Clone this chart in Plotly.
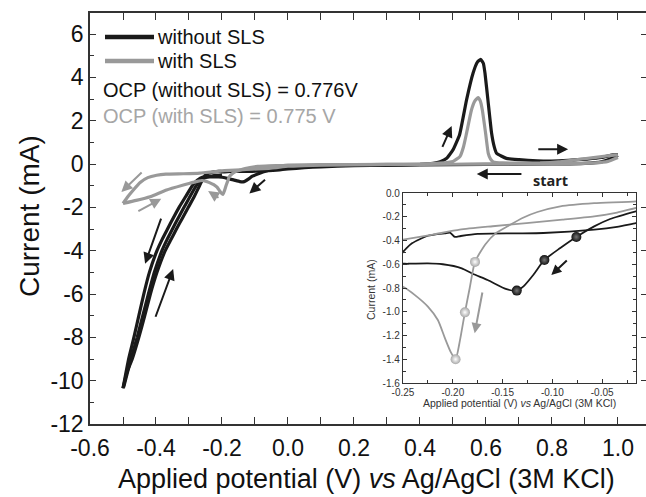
import plotly.graph_objects as go

# ---------------- data (potential V, current mA) ----------------
# without SLS, first cathodic sweep (starts at positive end)
bk_cat_x = [1.00, 0.98, 0.95, 0.90, 0.80, 0.60, 0.40, 0.20, 0.10, 0.00, -0.016, -0.042, -0.058,
            -0.076, -0.092, -0.108, -0.119, -0.129, -0.136, -0.146, -0.165, -0.18, -0.191, -0.21,
            -0.225, -0.245, -0.258, -0.275, -0.29, -0.31, -0.33, -0.348, -0.365, -0.382, -0.397,
            -0.42, -0.437, -0.452, -0.467, -0.483, -0.50]
bk_cat_y = [0.40, 0.25, 0.10, 0.03, 0.00, -0.02, -0.04, -0.06, -0.08, -0.12, -0.154, -0.219, -0.281,
            -0.37, -0.463, -0.564, -0.688, -0.786, -0.822, -0.81, -0.733, -0.68, -0.634, -0.60,
            -0.592, -0.596, -0.60, -0.75, -1.0, -1.5, -2.0, -2.5, -3.0, -3.5, -4.0,
            -5.0, -6.0, -7.0, -8.0, -9.0, -10.35]
# without SLS, second cycle cathodic sweep (steep region)
bk_cat2_x = [-0.20, -0.235, -0.255, -0.268, -0.278, -0.297, -0.315, -0.333, -0.35, -0.367, -0.382,
             -0.405, -0.423, -0.44, -0.457, -0.476, -0.498]
bk_cat2_y = [-0.50, -0.56, -0.65, -0.80, -1.0, -1.5, -2.0, -2.5, -3.0, -3.5, -4.0,
             -5.0, -6.0, -7.0, -8.0, -9.0, -10.3]
# without SLS, anodic sweep
bk_an_x = [-0.50, -0.488, -0.472, -0.452, -0.434, -0.417, -0.397, -0.372, -0.355, -0.338, -0.32,
           -0.302, -0.284, -0.268, -0.26, -0.254, -0.251, -0.241, -0.225, -0.208, -0.2025, -0.198,
           -0.192, -0.175, -0.138, -0.109, -0.058, -0.035, -0.016, 0.00, 0.05, 0.10, 0.20, 0.30,
           0.40, 0.44, 0.461, 0.48, 0.50, 0.52, 0.541, 0.561, 0.574, 0.584, 0.592, 0.597, 0.606,
           0.617, 0.625, 0.632, 0.662, 0.70, 0.755, 0.80, 0.85, 0.906, 0.95, 0.985, 1.00]
bk_an_y = [-10.35, -9.6, -9.0, -8.0, -7.0, -6.0, -5.0, -4.0, -3.5, -3.0, -2.5,
           -2.0, -1.5, -1.0, -0.75, -0.60, -0.508, -0.424, -0.36, -0.34, -0.335, -0.37,
           -0.362, -0.345, -0.34, -0.337, -0.309, -0.285, -0.253, -0.23, -0.17, -0.13, -0.08, -0.05,
           -0.02, 0.03, 0.10, 0.25, 0.65, 1.35, 2.95, 4.2, 4.7, 4.83, 4.65, 4.2, 2.95,
           1.43, 0.80, 0.50, 0.26, 0.20, 0.15, 0.14, 0.17, 0.23, 0.30, 0.42, 0.44]
# with SLS, cathodic sweep
gr_cat_x = [1.00, 0.97, 0.93, 0.85, 0.70, 0.50, 0.30, 0.10, 0.00, -0.016, -0.058, -0.092, -0.115,
            -0.13, -0.145, -0.157, -0.167, -0.1777, -0.183, -0.1878, -0.193, -0.1972, -0.202,
            -0.208, -0.215, -0.225, -0.238, -0.25, -0.26, -0.275, -0.30, -0.317, -0.368, -0.418,
            -0.46, -0.50]
gr_cat_y = [0.30, 0.12, 0.05, 0.02, 0.00, -0.01, -0.02, -0.03, -0.05, -0.07, -0.085, -0.112, -0.16,
            -0.21, -0.28, -0.34, -0.43, -0.58, -0.80, -1.005, -1.25, -1.40, -1.34,
            -1.22, -1.07, -0.957, -0.86, -0.79, -0.76, -0.80, -0.90, -0.97, -1.20, -1.51,
            -1.68, -1.82]
# with SLS, anodic sweep
gr_an_x = [-0.50, -0.485, -0.47, -0.448, -0.425, -0.398, -0.37, -0.317, -0.267, -0.25, -0.22, -0.193,
           -0.16, -0.126, -0.09, -0.058, -0.035, -0.016, 0.00, 0.05, 0.10, 0.20, 0.30, 0.40, 0.46,
           0.50, 0.521, 0.532, 0.541, 0.556, 0.566, 0.576, 0.583, 0.589, 0.599, 0.607, 0.614, 0.622,
           0.65, 0.70, 0.764, 0.82, 0.864, 0.92, 0.97, 1.00]
gr_an_y = [-1.82, -1.50, -1.22, -0.85, -0.63, -0.52, -0.47, -0.45, -0.42, -0.393, -0.35, -0.309,
           -0.28, -0.253, -0.225, -0.197, -0.165, -0.126, -0.10, -0.07, -0.05, -0.03, -0.02, 0.00, 0.04,
           0.12, 0.34, 0.80, 1.41, 2.49, 2.90, 3.06, 2.90, 2.49, 1.41, 0.49, 0.22, 0.10,
           0.05, 0.04, 0.05, 0.10, 0.18, 0.28, 0.38, 0.42]
# highlighted points in the inset
bk_dot_x = [-0.0759, -0.108, -0.1357]
bk_dot_y = [-0.37, -0.564, -0.822]
gr_dot_x = [-0.1777, -0.1878, -0.1972]
gr_dot_y = [-0.58, -1.005, -1.40]

# tick labels
main_xticks = [-0.6, -0.4, -0.2, 0.0, 0.2, 0.4, 0.6, 0.8, 1.0]
main_xlabels = ["-0.6", "-0.4", "-0.2", "0.0", "0.2", "0.4", "0.6", "0.8", "1.0"]
main_yticks = [-12, -10, -8, -6, -4, -2, 0, 2, 4, 6]
main_ylabels = ["-12", "-10", "-8", "-6", "-4", "-2", "0", "2", "4", "6"]
ins_xticks = [-0.25, -0.20, -0.15, -0.10, -0.05]
ins_xlabels = ["-0.25", "-0.20", "-0.15", "-0.10", "-0.05"]
ins_yticks = [0.0, -0.2, -0.4, -0.6, -0.8, -1.0, -1.2, -1.4, -1.6]
ins_ylabels = ["0.0", "-0.2", "-0.4", "-0.6", "-0.8", "-1.0", "-1.2", "-1.4", "-1.6"]

legend_names = ["without SLS", "with SLS"]
ocp_texts = ["OCP (without SLS) = 0.776V", "OCP (with SLS) = 0.775 V"]

# ---------------- styling ----------------
W, H = 646, 497
L, R, T, B = 90, 0, 13, 73
PW, PH = W - L - R, H - T - B
BLACK = "#1a1a1a"
GRAY = "#999999"
FONT = "Liberation Sans, Arial, sans-serif"
AX = "#333333"


def px(xp):
    return (xp - L) / PW


def py(yp):
    return (H - B - yp) / PH


fig = go.Figure()

main_lw = 3.2
for xs, ys, c, nm in [(bk_cat_x, bk_cat_y, BLACK, legend_names[0]),
                      (bk_cat2_x, bk_cat2_y, BLACK, legend_names[0]),
                      (bk_an_x, bk_an_y, BLACK, legend_names[0]),
                      (gr_cat_x, gr_cat_y, GRAY, legend_names[1]),
                      (gr_an_x, gr_an_y, GRAY, legend_names[1])]:
    fig.add_trace(go.Scatter(x=xs, y=ys, mode="lines", name=nm, showlegend=False,
                             line=dict(color=c, width=main_lw, shape="spline", smoothing=0.4),
                             xaxis="x", yaxis="y"))

# dummy trace to activate right-side tick axis
fig.add_trace(go.Scatter(x=[None], y=[None], xaxis="x", yaxis="y2", showlegend=False))

# inset traces (same data, zoomed)
for xs, ys, c in [(bk_cat_x, bk_cat_y, BLACK), (bk_an_x, bk_an_y, BLACK),
                  (gr_cat_x, gr_cat_y, GRAY), (gr_an_x, gr_an_y, GRAY)]:
    fig.add_trace(go.Scatter(x=xs, y=ys, mode="lines", showlegend=False,
                             line=dict(color=c, width=1.8, shape="spline", smoothing=0.6),
                             xaxis="x2", yaxis="y3"))
fig.add_trace(go.Scatter(x=bk_dot_x, y=bk_dot_y, mode="markers", showlegend=False,
                         marker=dict(size=10, color="#111111", line=dict(width=0),
                                     gradient=dict(type="radial", color="#777777")),
                         xaxis="x2", yaxis="y3"))
fig.add_trace(go.Scatter(x=gr_dot_x, y=gr_dot_y, mode="markers", showlegend=False,
                         marker=dict(size=10, color="#a8a8a8", line=dict(width=0),
                                     gradient=dict(type="radial", color="#ffffff")),
                         xaxis="x2", yaxis="y3"))

x_minor = [round(-0.6 + 0.1 * i, 2) for i in range(0, 17) if i % 2 == 1]
y_minor = [v for v in range(-12, 7) if v % 2 != 0]
ins_x_minor = [round(-0.25 + 0.025 * i, 4) for i in range(0, 10) if i % 2 == 1]
ins_y_minor = [round(-0.1 - 0.2 * i, 2) for i in range(0, 8)]

ins_x0, ins_x1 = px(403), px(636)
ins_y0, ins_y1 = py(383), py(193)

common = dict(showgrid=False, zeroline=False, automargin=False)

fig.update_layout(
    template="none",
    width=W, height=H,
    margin=dict(l=L, r=R, t=T, b=B, pad=0, autoexpand=False),
    paper_bgcolor="white", plot_bgcolor="white",
    font=dict(family=FONT, color="#111111"),
    xaxis=dict(domain=[0, 1], range=[-0.6, 1.085], anchor="y",
               tickmode="array", tickvals=main_xticks, ticktext=main_xlabels,
               ticks="inside", ticklen=7, tickwidth=1.3, tickcolor=AX,
               minor=dict(tickmode="array", tickvals=x_minor, ticks="inside", ticklen=7,
                          tickwidth=1.3, tickcolor=AX),
               showline=True, linecolor=AX, linewidth=1.5, mirror="ticks",
               ticklabelstandoff=3,
               tickfont=dict(size=23, family=FONT, color="#111111"), **common),
    yaxis=dict(domain=[0, 1], range=[-12, 6.97], anchor="x",
               tickmode="array", tickvals=main_yticks, ticktext=main_ylabels,
               ticks="inside", ticklen=6, tickwidth=1.3, tickcolor=AX,
               minor=dict(tickmode="array", tickvals=y_minor, ticks="inside", ticklen=4,
                          tickwidth=1.3, tickcolor=AX),
               showline=True, linecolor=AX, linewidth=1.5, mirror=False,
               tickfont=dict(size=23, family=FONT, color="#111111"), **common),
    yaxis2=dict(overlaying="y", side="right", anchor="x", range=[-12, 6.97],
                tickmode="array", tickvals=main_yticks, ticks="inside", ticklen=5,
                tickwidth=1.3, tickcolor=AX, showticklabels=False, showline=False, **common),
    xaxis2=dict(domain=[ins_x0, ins_x1], range=[-0.25, -0.016], anchor="y3",
                tickmode="array", tickvals=ins_xticks, ticktext=ins_xlabels,
                ticks="inside", ticklen=4, tickwidth=1, tickcolor=AX,
                minor=dict(tickmode="array", tickvals=ins_x_minor, ticks="inside", ticklen=3,
                           tickwidth=1, tickcolor=AX),
                showline=True, linecolor=AX, linewidth=1.3, mirror="ticks",
                tickfont=dict(size=10, family=FONT, color="#333333"), **common),
    yaxis3=dict(domain=[ins_y0, ins_y1], range=[-1.6, 0.0], anchor="x2",
                tickmode="array", tickvals=ins_yticks, ticktext=ins_ylabels,
                ticks="inside", ticklen=4, tickwidth=1, tickcolor=AX,
                minor=dict(tickmode="array", tickvals=ins_y_minor, ticks="inside", ticklen=3,
                           tickwidth=1, tickcolor=AX),
                showline=True, linecolor=AX, linewidth=1.3, mirror="ticks",
                tickfont=dict(size=10, family=FONT, color="#333333"), **common),
)

annotations = []
shapes = []

# axis titles
annotations.append(dict(xref="paper", yref="paper", x=px(366), y=py(479),
                        text="Applied potential (V) <i>vs</i> Ag/AgCl (3M KCl)", showarrow=False,
                        xanchor="center", yanchor="middle",
                        font=dict(size=27, family=FONT, color="#111111")))
annotations.append(dict(xref="paper", yref="paper", x=px(30), y=py(216),
                        text="Current (mA)", showarrow=False, textangle=-90,
                        xanchor="center", yanchor="middle",
                        font=dict(size=28, family=FONT, color="#111111")))
# inset axis titles
annotations.append(dict(xref="paper", yref="paper", x=px(519), y=py(403),
                        text="Applied potential (V) <i>vs</i> Ag/AgCl (3M KCl)", showarrow=False,
                        xanchor="center", yanchor="middle",
                        font=dict(size=10.5, family=FONT, color="#333333")))
annotations.append(dict(xref="paper", yref="paper", x=px(371), y=py(290),
                        text="Current (mA)", showarrow=False, textangle=-90,
                        xanchor="center", yanchor="middle",
                        font=dict(size=10.5, family=FONT, color="#333333")))

# legend
for (yy, c, nm) in [(37, BLACK, legend_names[0]), (61, GRAY, legend_names[1])]:
    shapes.append(dict(type="line", xref="paper", yref="paper", x0=px(105), x1=px(154),
                       y0=py(yy), y1=py(yy), line=dict(color=c, width=4.5)))
    annotations.append(dict(xref="paper", yref="paper", x=px(155), y=py(yy), text=nm,
                            showarrow=False, xanchor="left", yanchor="middle",
                            font=dict(size=20, family=FONT, color="#111111")))
annotations.append(dict(xref="paper", yref="paper", x=px(101), y=py(90), text=ocp_texts[0],
                        showarrow=False, xanchor="left", yanchor="middle",
                        font=dict(size=20, family=FONT, color="#111111")))
annotations.append(dict(xref="paper", yref="paper", x=px(101), y=py(116), text=ocp_texts[1],
                        showarrow=False, xanchor="left", yanchor="middle",
                        font=dict(size=20, family=FONT, color="#a6a6a6")))
annotations.append(dict(xref="x", yref="y", x=0.795, y=-0.77, text="<b>start</b>",
                        showarrow=False, xanchor="center", yanchor="middle",
                        font=dict(size=14.5, family="Open Sans, sans-serif", color="#222222")))

# arrows in main plot (head x,y ; tail ax,ay)
main_arrows = [
    (0.496, 1.75, 0.466, 0.72, BLACK),
    (0.849, 0.68, 0.754, 0.68, BLACK),
    (0.572, -0.46, 0.712, -0.46, BLACK),
    (-0.117, -1.36, -0.065, -0.66, BLACK),
    (-0.505, -1.29, -0.439, -0.33, GRAY),
    (-0.384, -1.60, -0.458, -2.21, GRAY),
    (-0.242, -1.25, -0.206, -1.60, GRAY),
    (-0.433, -4.60, -0.383, -2.45, BLACK),
    (-0.348, -4.85, -0.403, -7.12, BLACK),
]
for hx, hy, tx, ty, c in main_arrows:
    annotations.append(dict(xref="x", yref="y", axref="x", ayref="y", x=hx, y=hy, ax=tx, ay=ty,
                            text="", showarrow=True, arrowhead=2, arrowsize=1.1,
                            arrowwidth=2.0, arrowcolor=c, standoff=0, startstandoff=0))
inset_arrows = [
    (-0.101, -0.69, -0.084, -0.556, BLACK),
    (-0.178, -1.18, -0.170, -0.825, GRAY),
]
for hx, hy, tx, ty, c in inset_arrows:
    annotations.append(dict(xref="x2", yref="y3", axref="x2", ayref="y3", x=hx, y=hy, ax=tx, ay=ty,
                            text="", showarrow=True, arrowhead=2, arrowsize=1.0,
                            arrowwidth=2.0, arrowcolor=c, standoff=0, startstandoff=0))

fig.update_layout(annotations=annotations, shapes=shapes)
fig.write_html("out.html", config={"displayModeBar": False},
               post_script="document.body.style.margin='0px';document.body.style.overflow='hidden';")
